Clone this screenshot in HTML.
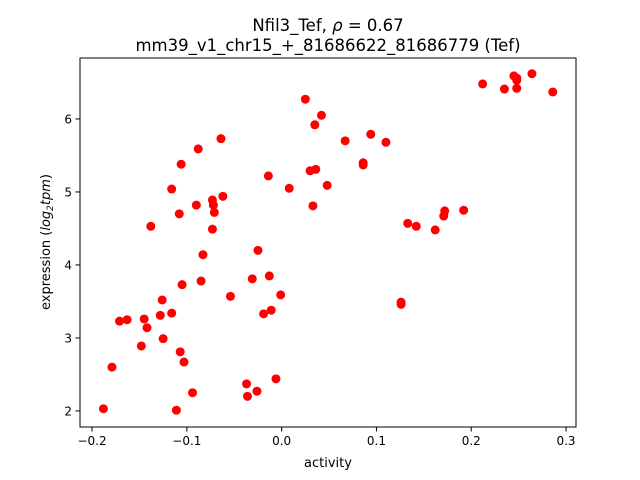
<!DOCTYPE html>
<html><head><meta charset="utf-8"><style>
body{margin:0;background:#fff}
svg{display:block;font-family:"DejaVu Sans","Liberation Sans",sans-serif}
</style></head><body>
<svg id="chart" width="640" height="480">
<rect x="0" y="0" width="640" height="480" fill="#fff"/>
<text x="328" y="31" text-anchor="middle" font-size="16.5">Nfil3_Tef, <tspan font-style="italic">ρ</tspan> = 0.67</text>
<text x="328" y="51" text-anchor="middle" font-size="16.5">mm39_v1_chr15_+_81686622_81686779 (Tef)</text>
<g id="marks"></g>
<g id="axes"></g>
<text x="328" y="467" text-anchor="middle" font-size="13">activity</text>
<text transform="translate(50,242) rotate(-90)" text-anchor="middle" font-size="13">expression (<tspan font-style="italic">log</tspan><tspan font-style="italic" font-size="9" dy="3">2</tspan><tspan font-style="italic" dy="-3">tpm</tspan>)</text>
</svg>
<script>
const xVals=[-0.188,-0.179,-0.171,-0.163,-0.148,-0.145,-0.142,-0.138,-0.128,-0.126,-0.125,-0.116,-0.116,-0.111,-0.108,-0.107,-0.106,-0.105,-0.103,-0.094,-0.090,-0.088,-0.085,-0.083,-0.073,-0.073,-0.072,-0.071,-0.064,-0.062,-0.054,-0.037,-0.036,-0.031,-0.026,-0.025,-0.019,-0.014,-0.013,-0.011,-0.006,-0.001,0.008,0.025,0.030,0.033,0.035,0.036,0.042,0.048,0.067,0.086,0.086,0.094,0.110,0.126,0.126,0.133,0.142,0.162,0.171,0.172,0.192,0.212,0.235,0.245,0.248,0.248,0.248,0.264,0.286];
const yVals=[2.03,2.60,3.23,3.25,2.89,3.26,3.14,4.53,3.31,3.52,2.99,3.34,5.04,2.01,4.70,2.81,5.38,3.73,2.67,2.25,4.82,5.59,3.78,4.14,4.49,4.89,4.82,4.72,5.73,4.94,3.57,2.37,2.20,3.81,2.27,4.20,3.33,5.22,3.85,3.38,2.44,3.59,5.05,6.27,5.29,4.81,5.92,5.31,6.05,5.09,5.70,5.40,5.37,5.79,5.68,3.49,3.46,4.57,4.53,4.48,4.67,4.74,4.75,6.48,6.41,6.59,6.56,6.53,6.42,6.62,6.37];
const xTicks=[-0.2,-0.1,0.0,0.1,0.2,0.3];
const xTickLabels=["−0.2","−0.1","0.0","0.1","0.2","0.3"];
const yTicks=[2,3,4,5,6];
const yTickLabels=["2","3","4","5","6"];
const L=80,R=576,T=58,B=427;
const xmin=-0.2127,xmax=0.3105,ymin=1.78,ymax=6.835;
const sx=v=>L+(v-xmin)/(xmax-xmin)*(R-L);
const sy=v=>B-(v-ymin)/(ymax-ymin)*(B-T);
const NS="http://www.w3.org/2000/svg";
const marks=document.getElementById('marks');
xVals.forEach((x,i)=>{
  const c=document.createElementNS(NS,'circle');
  c.setAttribute('cx',sx(x));c.setAttribute('cy',sy(yVals[i]));c.setAttribute('r',4.5);c.setAttribute('fill','#ff0000');
  
  
  marks.appendChild(c);
});
const axes=document.getElementById('axes');
function mk(tag,attrs,txt){const e=document.createElementNS(NS,tag);for(const k in attrs)e.setAttribute(k,attrs[k]);if(txt!==undefined)e.textContent=txt;axes.appendChild(e);return e;}
const fr=mk('rect',{x:L,y:T,width:R-L,height:B-T,fill:'none',stroke:'#000','stroke-width':1});


xTicks.forEach((t,i)=>{
  const x=sx(t);
  mk('line',{x1:x,x2:x,y1:B,y2:B+4.5,stroke:'#000'});
  const tx=mk('text',{x:x,y:B+18,'text-anchor':'middle','font-size':12},xTickLabels[i]);
  
  
});
yTicks.forEach((t,i)=>{
  const y=sy(t);
  mk('line',{x1:L-4.5,x2:L,y1:y,y2:y,stroke:'#000'});
  const tx=mk('text',{x:L-8,y:y+4.5,'text-anchor':'end','font-size':12},yTickLabels[i]);
  
  
});
</script>
</body></html>
